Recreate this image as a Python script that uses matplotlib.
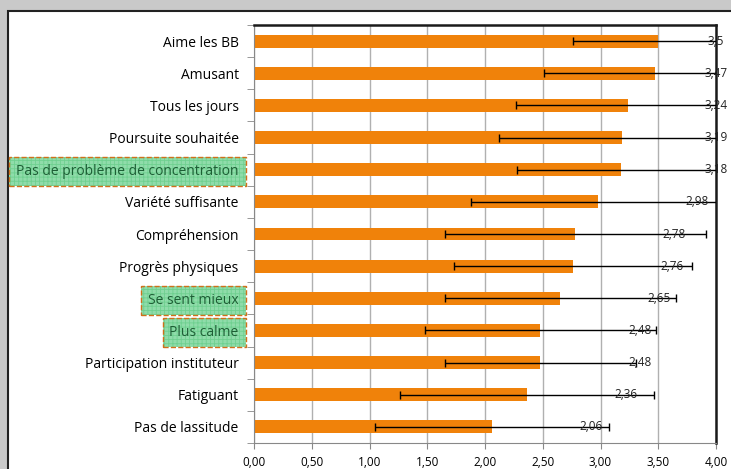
import matplotlib
matplotlib.use("Agg")
from matplotlib import pyplot as plt
from matplotlib.patches import Rectangle
import numpy as np

plt.rcParams['font.family'] = ['Open Sans', 'DejaVu Sans']
plt.rcParams['hatch.color'] = '#4cbf72'
plt.rcParams['hatch.linewidth'] = 0.6

# items from top to bottom
categories = ['Aime les BB', 'Amusant', 'Tous les jours', 'Poursuite souhaitée',
              'Pas de problème de concentration', 'Variété suffisante',
              'Compréhension', 'Progrès physiques', 'Se sent mieux',
              'Plus calme', 'Participation instituteur', 'Fatiguant',
              'Pas de lassitude']
means = [3.50, 3.47, 3.24, 3.19, 3.18, 2.98, 2.78, 2.76, 2.65, 2.48, 2.48, 2.36, 2.06]
errors = [0.74, 0.96, 0.97, 1.07, 0.90, 1.10, 1.13, 1.03, 1.00, 1.00, 0.83, 1.10, 1.01]
value_labels = ['3,5', '3,47', '3,24', '3,19', '3,18', '2,98', '2,78', '2,76',
                '2,65', '2,48', '2,48', '2,36', '2,06']
highlighted = ['Pas de problème de concentration', 'Se sent mieux', 'Plus calme']
xticks = [0, 0.5, 1, 1.5, 2, 2.5, 3, 3.5, 4]

fig = plt.figure(figsize=(7.31, 4.69), dpi=100)
fig.patch.set_facecolor('#c9c9c9')

# white chart area of the screenshot
fig.patches.append(Rectangle((7.5 / 731, -0.01), 1, 1.01 - 11 / 469, transform=fig.transFigure,
                             facecolor='white', edgecolor='#222222', linewidth=1.5,
                             zorder=-10))

ax = fig.add_axes([254 / 731, 26 / 469, 462 / 731, 418 / 469])
y = np.arange(len(categories))[::-1]

ax.barh(y, means, height=0.4, color='#f0820a', zorder=2)
ax.errorbar(means, y, xerr=errors, fmt='none', ecolor='black', elinewidth=1,
            capsize=3, capthick=1, zorder=3, clip_on=True)

for yi, v, lab in zip(y, means, value_labels):
    ax.text(min(v + 0.86, 4.0), yi, lab, ha='center', va='center', fontsize=8.5,
            color='#222222', zorder=4, clip_on=False)

ax.set_xlim(0, 4)
ax.set_ylim(-0.5, len(categories) - 0.5)
ax.set_xticks(xticks)
ax.set_xticklabels([('%.2f' % t).replace('.', ',') for t in xticks], fontsize=8.5)
ax.set_yticks(y)
ax.set_yticklabels(categories, fontsize=10)
ax.set_yticks(np.arange(len(categories) + 1) - 0.5, minor=True)
ax.tick_params(axis='y', which='major', length=0, pad=11)
ax.tick_params(axis='y', which='minor', length=5, color='#888888')
ax.tick_params(axis='x', length=4, color='#888888', pad=5)
ax.grid(axis='x', color='#b0b0b0', linewidth=1, zorder=1)
ax.set_axisbelow(True)

for s in ['left', 'bottom']:
    ax.spines[s].set_color('#888888')
for s in ['top', 'right']:
    ax.spines[s].set_color('#1a1a1a')
    ax.spines[s].set_linewidth(1.8)

# green hatched boxes behind some labels, orange dashed frame round them
for lab in ax.get_yticklabels():
    if lab.get_text() in highlighted:
        lab.set_color('#1d5e35')
        lab.set_bbox(dict(facecolor='#8fdcaa', edgecolor='#6fd090', linewidth=0,
                          hatch='++++', boxstyle='square,pad=0.5'))

fig.canvas.draw()
for lab in ax.get_yticklabels():
    if lab.get_text() in highlighted:
        bb = lab.get_bbox_patch().get_window_extent()
        fig.patches.append(Rectangle((bb.x0, bb.y0), bb.width, bb.height, transform=None,
                                     facecolor='none', edgecolor='#d0701a',
                                     linestyle='--', linewidth=1, zorder=5))

fig.savefig('out.png', dpi=100, facecolor=fig.get_facecolor())
